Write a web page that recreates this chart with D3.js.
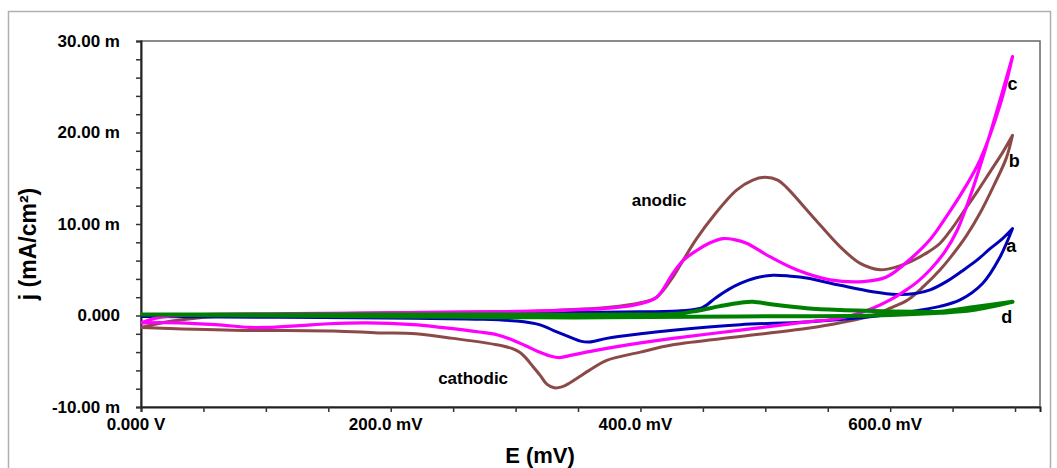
<!DOCTYPE html>
<html>
<head>
<meta charset="utf-8">
<script src="https://cdn.jsdelivr.net/npm/d3@7"></script>
<style>
  body { margin: 0; background: #fff; }
  text { font-family: "Liberation Sans", Arial, sans-serif; font-weight: bold; fill: #000; }
</style>
</head>
<body>
<svg width="1057" height="468"></svg>
<script>
// forward (anodic) and reverse (cathodic) scans, [E mV, j mA/cm2]
var aForward = [[0,-0.1],[50,0.0],[150,0.1],[250,0.2],[320,0.3],[400,0.4],[430,0.5],[440,0.6],[450,0.9],[460,1.9],[470,2.8],[480,3.5],[492,4.1],[506,4.4],[520,4.3],[533,4.1],[560,3.3],[586,2.6],[605,2.3],[620,2.4],[632,2.8],[645,3.7],[658,4.9],[670,6.1],[680,7.3],[690,8.4],[698,9.5]];
var aReverse = [[698,9.5],[688,6.4],[674,3.5],[656,1.7],[640,1.0],[615,0.4],[586,-0.1],[533,-0.7],[480,-1.0],[426,-1.6],[400,-2.0],[373,-2.5],[359,-2.9],[352,-2.8],[346,-2.5],[333,-1.8],[319,-1.0],[300,-0.6],[271,-0.4],[218,-0.3],[111,-0.2],[0,-0.1]];

var bForward = [[0,-1.3],[25,-0.6],[60,-0.1],[120,0.1],[200,0.3],[280,0.4],[320,0.5],[375,0.9],[400,1.4],[413,2.0],[426,4.2],[434,6.0],[445,8.4],[458,10.8],[477,13.7],[490,14.8],[500,15.1],[510,14.8],[517,14.0],[538,10.8],[560,7.5],[576,5.7],[592,5.0],[605,5.3],[618,6.0],[630,6.9],[640,7.9],[650,9.6],[660,11.6],[670,13.6],[680,15.7],[690,17.8],[698,19.7]];
var bReverse = [[698,19.7],[693,17.2],[683,14.2],[672,11.2],[661,8.7],[648,6.3],[640,5.0],[627,3.2],[614,1.7],[600,0.8],[587,0.05],[560,-0.8],[534,-1.4],[480,-2.3],[426,-3.2],[400,-4.0],[373,-4.9],[359,-6.0],[351,-6.7],[343,-7.4],[337,-7.8],[331,-7.9],[325,-7.5],[320,-6.6],[314,-5.6],[308,-4.6],[303,-4.0],[297,-3.6],[285,-3.2],[250,-2.5],[220,-2.0],[190,-1.9],[154,-1.7],[74,-1.6],[0,-1.3]];

var cForward = [[0,-0.8],[15,-0.2],[50,0.1],[120,0.2],[200,0.3],[280,0.4],[320,0.5],[375,0.8],[400,1.3],[413,2.0],[426,4.6],[434,6.0],[445,7.1],[455,7.9],[466,8.4],[475,8.3],[485,7.9],[504,6.4],[525,5.0],[552,3.9],[578,3.7],[597,4.2],[618,6.4],[632,8.3],[645,10.8],[660,14.0],[672,17.0],[688,23.0],[698,28.3]];
var cReverse = [[698,28.3],[690,24.5],[681,20.3],[672,16.3],[664,13.0],[654,9.4],[644,7.0],[632,5.0],[622,3.7],[613,2.8],[600,1.7],[586,0.8],[560,-0.3],[533,-0.7],[480,-1.6],[426,-2.5],[400,-3.0],[373,-3.6],[346,-4.3],[335,-4.6],[327,-4.4],[319,-4.0],[308,-3.3],[298,-2.7],[285,-2.1],[271,-1.8],[240,-1.3],[218,-1.0],[181,-0.8],[150,-0.9],[127,-1.1],[100,-1.3],[87,-1.3],[60,-1.0],[30,-0.8],[0,-0.8]];

var dForward = [[0,0.1],[100,0.1],[200,0.1],[300,0.1],[400,0.1],[430,0.2],[445,0.5],[463,1.0],[480,1.4],[490,1.5],[506,1.2],[533,0.8],[560,0.6],[586,0.5],[620,0.4],[640,0.4],[666,0.9],[698,1.5]];
var dReverse = [[698,1.5],[666,0.6],[640,0.3],[586,0.0],[480,-0.1],[373,-0.2],[319,-0.2],[200,-0.1],[100,0.0],[0,0.1]];

var curveNames = ["b", "a", "c", "d"];
var curveColors = ["#8b4a48", "#0000b8", "#ff00ff", "#008000"];
var curveWidths = [3, 3, 3.2, 4];
var curveData = [bForward.concat(bReverse), aForward.concat(aReverse), cForward.concat(cReverse), dForward.concat(dReverse)];

var yTickValues = [30, 20, 10, 0, -10];
var yTickLabels = ["30.00 m", "20.00 m", "10.00 m", "0.000", "-10.00 m"];
var xTickValues = [0, 200, 400, 600];
var xTickLabels = ["0.000 V", "200.0 mV", "400.0 mV", "600.0 mV"];

var notes = [["anodic", 393, 12.0], ["cathodic", 238, -7.5], ["c", 694, 24.6], ["b", 695, 16.2], ["a", 693, 6.9], ["d", 689, -0.8]];

var svg = d3.select("svg");

var x = d3.scaleLinear().domain([0, 720]).range([141, 1040]);
var y = d3.scaleLinear().domain([-10, 30]).range([407, 41]);

// outer frame
svg.append("path")
    .attr("d", "M8.5,470 V11.5 H1050.5 V470")
    .attr("fill", "none")
    .attr("stroke", "#b0b0b0")
    .attr("stroke-width", 1.5);

// plot frame
svg.append("rect")
    .attr("x", x(0)).attr("y", y(30))
    .attr("width", x(720) - x(0)).attr("height", y(-10) - y(30))
    .attr("fill", "none")
    .attr("stroke", "#666")
    .attr("stroke-width", 1.5);

var xAxis = svg.append("g")
    .attr("transform", "translate(0," + y(-10) + ")")
    .call(d3.axisBottom(x).tickValues(d3.range(0, 721, 50)).tickSize(5).tickFormat(""));
var yAxis = svg.append("g")
    .attr("transform", "translate(" + x(0) + ",0)")
    .call(d3.axisLeft(y).tickValues(d3.range(-10, 31, 2)).tickSize(5).tickFormat(""));
[xAxis, yAxis].forEach(function(g) {
  g.select(".domain").attr("stroke", "#222").attr("stroke-width", 2);
  g.selectAll(".tick line").attr("stroke", "#333").attr("stroke-width", 1.5);
});

svg.selectAll(".xlab")
  .data(xTickValues)
  .enter().append("text")
    .attr("class", "xlab")
    .attr("x", function(d) { return x(d) - 5; })
    .attr("y", 430)
    .attr("text-anchor", "middle")
    .style("font-size", "17px")
    .text(function(d, i) { return xTickLabels[i]; });

svg.selectAll(".ylab")
  .data(yTickValues)
  .enter().append("text")
    .attr("class", "ylab")
    .attr("x", 120)
    .attr("y", function(d) { return y(d); })
    .attr("dy", "0.35em")
    .attr("text-anchor", "end")
    .style("font-size", "17px")
    .text(function(d, i) { return yTickLabels[i]; });

svg.append("text")
    .attr("x", 540)
    .attr("y", 463)
    .attr("text-anchor", "middle")
    .style("font-size", "22px")
    .text("E (mV)");

svg.append("text")
    .attr("transform", "translate(36,244) rotate(-90)")
    .attr("text-anchor", "middle")
    .style("font-size", "23px")
    .text("j (mA/cm²)");

var line = d3.line()
    .x(function(d) { return x(d[0]); })
    .y(function(d) { return y(d[1]); })
    .curve(d3.curveCatmullRom.alpha(0.5));

svg.selectAll(".cv")
  .data(curveData)
  .enter().append("path")
    .attr("class", "cv")
    .attr("d", line)
    .attr("fill", "none")
    .attr("stroke", function(d, i) { return curveColors[i]; })
    .attr("stroke-width", function(d, i) { return curveWidths[i]; })
    .attr("stroke-linejoin", "round");

svg.selectAll(".note")
  .data(notes)
  .enter().append("text")
    .attr("class", "note")
    .attr("x", function(d) { return x(d[1]); })
    .attr("y", function(d) { return y(d[2]); })
    .style("font-size", function(d) { return d[0].length > 1 ? "17px" : "18px"; })
    .text(function(d) { return d[0]; });
</script>
</body>
</html>
